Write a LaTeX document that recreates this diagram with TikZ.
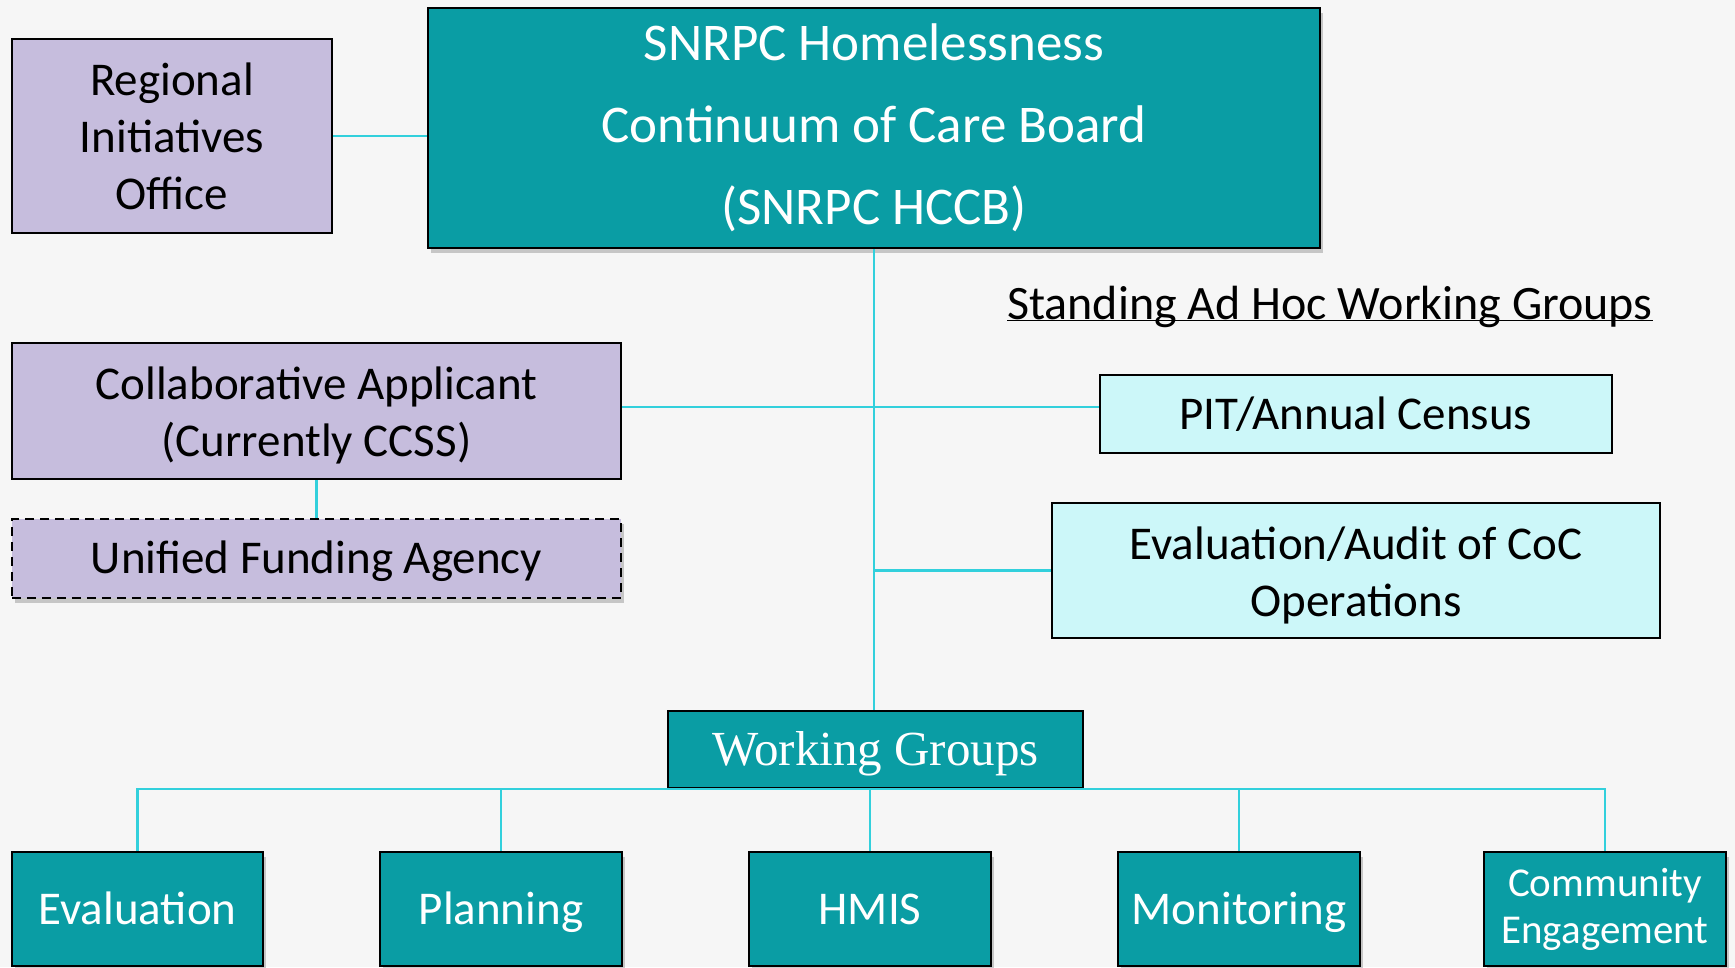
\documentclass[tikz,border=0pt]{standalone}
\usepackage{fontspec}
\setmainfont{Carlito}
\newfontfamily\wgfont{Liberation Serif}
\usetikzlibrary{shadows}
\definecolor{tealbg}{RGB}{10,157,164}
\definecolor{lav}{RGB}{198,189,221}
\definecolor{lcyan}{RGB}{204,247,249}
\definecolor{conn}{RGB}{50,208,220}
\definecolor{pagebg}{RGB}{246,246,246}
\newcommand{\twolines}[3]{\raisebox{#1}[\height][\depth]{\begin{tabular}{@{}c@{}}#2\\#3\end{tabular}}}
\begin{document}
\begin{tikzpicture}[x=1bp,y=-1bp,
  basebox/.style={draw=black, line width=2.2bp, inner sep=0pt, align=center},
  purplebox/.style={basebox, fill=lav, text=black},
  tealbox/.style={basebox, fill=tealbg, text=white},
  cyanbox/.style={basebox, fill=lcyan, text=black},
  oneline/.style={text height=30bp, text depth=0bp},
  softshadow/.style={drop shadow={opacity=0.28, shadow xshift=3bp, shadow yshift=-5bp, fill=black!70}},
  childbox/.style={tealbox, softshadow, oneline, minimum width=242bp, minimum height=114bp, font=\fontsize{47bp}{57bp}\selectfont},
  link/.style={draw=conn, line width=2.6bp}
]
\fill[pagebg] (0,0) rectangle (1735,967);
\useasboundingbox (0,0) rectangle (1735,967);

% top level
\node[purplebox, minimum width=320bp, minimum height=194bp, font=\fontsize{47bp}{57bp}\selectfont] (reg) at (172,136) {Regional\\Initiatives\\Office};
\node[tealbox, softshadow, minimum width=892bp, minimum height=240bp, font=\fontsize{53bp}{82bp}\selectfont] (main) at (874,128) {SNRPC Homelessness\\Continuum of Care Board\\(SNRPC HCCB)};

\node[inner sep=0pt, anchor=base, font=\fontsize{48bp}{57bp}\selectfont] (adhoc) at (1330,319) {\underline{\raisebox{0pt}[\height][0pt]{Standing Ad Hoc Working Groups}}};

\node[purplebox, minimum width=609bp, minimum height=136bp, font=\fontsize{47bp}{57bp}\selectfont] (collab) at (316.5,411) {\twolines{-6bp}{Collaborative Applicant}{(Currently CCSS)}};
\node[purplebox, softshadow, oneline, dash pattern=on 9bp off 6bp, minimum width=609bp, minimum height=79bp, font=\fontsize{47bp}{57bp}\selectfont] (ufa) at (316.5,558.5) {Unified Funding Agency};

\node[cyanbox, oneline, minimum width=512bp, minimum height=78bp, font=\fontsize{47bp}{57bp}\selectfont] (pit) at (1356,414) {PIT/Annual Census};
\node[cyanbox, minimum width=608bp, minimum height=135bp, font=\fontsize{47bp}{57bp}\selectfont] (audit) at (1356,570.5) {\twolines{-6bp}{Evaluation/Audit of CoC}{Operations}};

\node[tealbox, text height=32bp, text depth=0bp, minimum width=415bp, minimum height=77bp, font=\wgfont\fontsize{49bp}{58bp}\selectfont] (wg) at (875.5,749.5) {Working Groups};

% working group children
\node[childbox, minimum width=251bp] (c1) at (137.5,909) {Evaluation};
\node[childbox] (c2) at (501,909) {Planning};
\node[childbox] (c3) at (870,909) {HMIS};
\node[childbox] (c4) at (1239,909) {Monitoring};
\node[tealbox, softshadow, minimum width=242bp, minimum height=114bp, font=\fontsize{41bp}{47bp}\selectfont] (c5) at (1605,909) {Community\\Engagement};

% connectors
\draw[link] (reg.east) -- (reg.east -| main.west);
\draw[link] (main.south) -- (main.south |- wg.north);
\draw[link] ([yshift=4bp]collab.east) -- ([yshift=4bp]collab.east -| pit.west);
\draw[link] (collab.south) -- (ufa.north);
\draw[link] (main.south |- audit.west) -- (audit.west);
\foreach \c in {c1,c2,c3,c4,c5}{
  \draw[link] (\c.north) |- (wg.south);
}
\end{tikzpicture}
\end{document}
